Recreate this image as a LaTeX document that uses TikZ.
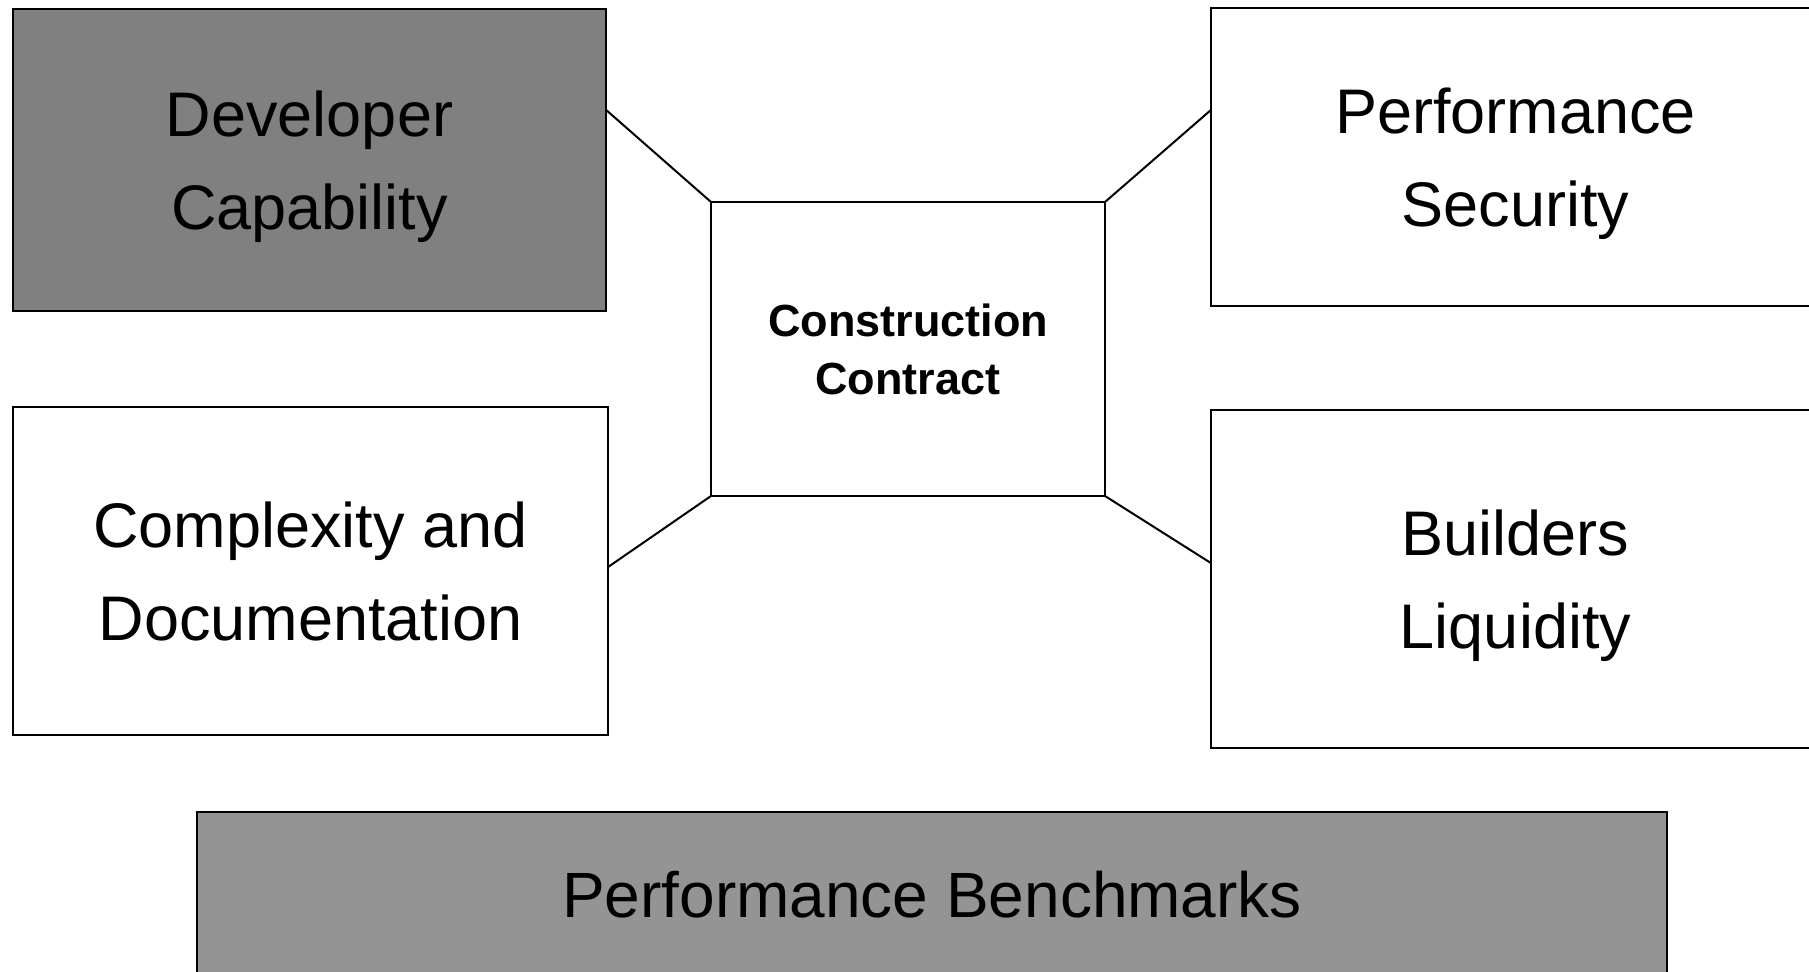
\documentclass[tikz,border=0pt]{standalone}
\usepackage{fontspec}
\setmainfont{Liberation Sans}
\usetikzlibrary{calc}
% struts that keep each text block centred on its capital letters
\newcommand\capstrut{\rule{0pt}{0.966em}}
\newcommand\descstrut{\rule[-0.25em]{0pt}{0.25em}}

\begin{document}
\begin{tikzpicture}[x=0.5pt,y=-0.5pt,
  panel/.style={draw=black, line width=1.3pt, outer sep=0pt, inner sep=0pt,
    align=center, font=\fontsize{31.5}{46.5}\selectfont},
  hub/.style={panel, font=\bfseries\fontsize{22.5}{29}\selectfont},
  shaded/.style={fill=black!50},
  banner/.style={panel, fill=black!42, font=\fontsize{32}{40}\selectfont},
  link/.style={draw=black, line width=1pt}]
\useasboundingbox (0,0) rectangle (1809,972);
\clip (0,0) rectangle (1809,972);

% factor boxes
\node[panel, shaded, minimum width=296.5pt, minimum height=151pt] (dev) at (309.5,160)
  {\capstrut Developer\\Capability\descstrut};
\node[panel, minimum width=297.5pt, minimum height=164pt] (cmp) at (310.5,571)
  {\capstrut Complexity and\\Documentation\descstrut};
\node[panel, minimum width=304.5pt, minimum height=149pt] (sec) at (1515.5,157)
  {\capstrut Performance\\Security\descstrut};
\node[panel, minimum width=304.5pt, minimum height=169pt] (liq) at (1515.5,579)
  {\capstrut Builders\\Liquidity\descstrut};

% central contract
\node[hub, minimum width=197pt, minimum height=147pt] (cc) at (908,349)
  {\capstrut Construction\\Contract\descstrut};

% benchmark band along the bottom
\node[banner, minimum width=735pt, minimum height=82.5pt] (bm) at (932,894.5)
  {\capstrut Performance Benchmarks\descstrut};

% connectors to the contract corners
\draw[link] ($(dev.north east)!0.334!(dev.south east)$) -- (cc.north west);
\draw[link] ($(cmp.north east)!0.488!(cmp.south east)$) -- (cc.south west);
\draw[link] ($(sec.north west)!0.342!(sec.south west)$) -- (cc.north east);
\draw[link] ($(liq.north west)!0.453!(liq.south west)$) -- (cc.south east);
\end{tikzpicture}
\end{document}
